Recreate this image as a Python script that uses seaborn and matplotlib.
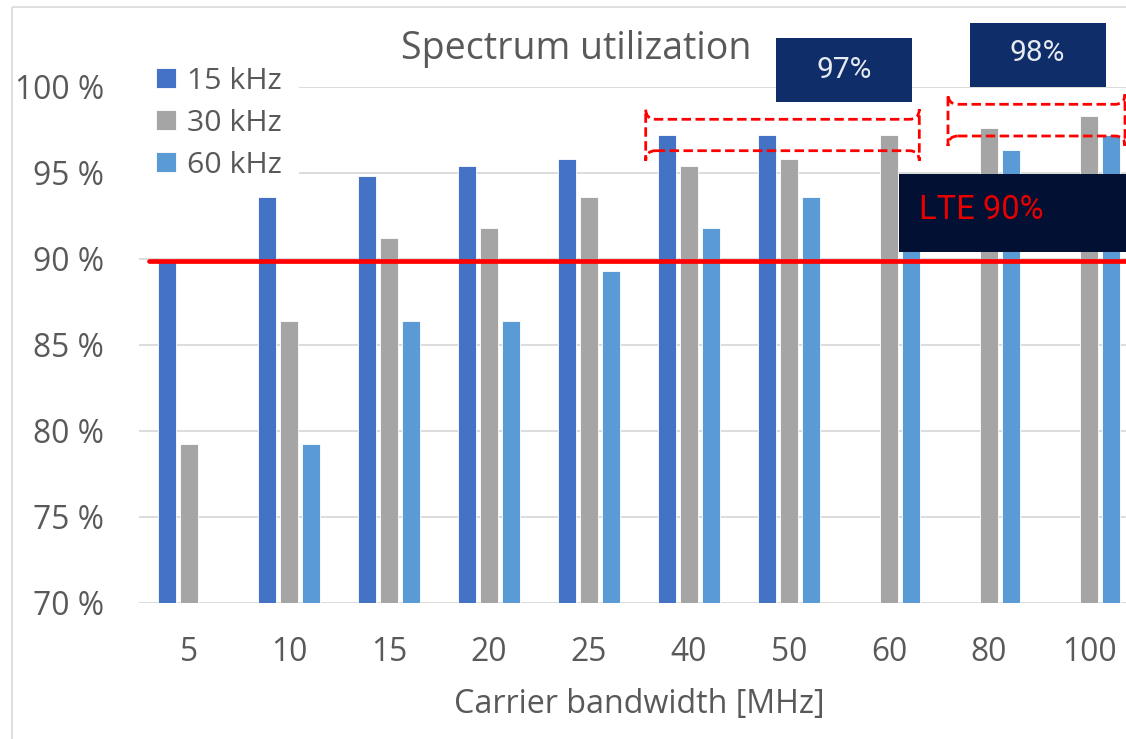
import numpy as np
import pandas as pd
import matplotlib
matplotlib.use("Agg")
import matplotlib.pyplot as plt
from matplotlib.patches import Rectangle, FancyBboxPatch
from matplotlib.transforms import Affine2D
import seaborn as sns

# Carrier bandwidths and spectrum utilization (%) per subcarrier spacing
bandwidths = ["5", "10", "15", "20", "25", "40", "50", "60", "80", "100"]
util_15khz = [90.0, 93.6, 94.8, 95.4, 95.8, 97.2, 97.2, np.nan, np.nan, np.nan]
util_30khz = [79.2, 86.4, 91.2, 91.8, 93.6, 95.4, 95.8, 97.2, 97.6, 98.3]
util_60khz = [np.nan, 79.2, 86.4, 86.4, 89.3, 91.8, 93.6, 94.8, 96.3, 97.2]
spacings = ["15 kHz", "30 kHz", "60 kHz"]
lte_level = 89.83
y_ticks = [70, 75, 80, 85, 90, 95, 100]

colors = ["#4472C4", "#A5A5A5", "#5B9BD5"]
text_grey = "#595959"
grid_grey = "#D9D9D9"

df = pd.DataFrame({
    "bw": bandwidths * 3,
    "util": util_15khz + util_30khz + util_60khz,
    "scs": [s for s in spacings for _ in bandwidths],
})

sns.set_theme(style="white")
plt.rcParams["font.family"] = ["Open Sans", "DejaVu Sans"]

W, H = 1126, 739
fig = plt.figure(figsize=(W / 100, H / 100), dpi=100)
# pixel-based transform (origin top-left) for decorations
px = Affine2D().scale(1 / W, -1 / H).translate(0, 1) + fig.transFigure

ax = fig.add_axes([139 / W, 1 - 602.7 / H, 1000 / W, 516.2 / H])

sns.barplot(data=df, x="bw", y="util", hue="scs", hue_order=spacings,
            order=bandwidths, palette=colors, saturation=1, width=0.67,
            gap=0.2, edgecolor="white", linewidth=0.6, ax=ax, zorder=2)

ax.set_ylim(70, 100)
ax.set_xlim(-0.5, len(bandwidths) - 0.5)
ax.set_yticks(y_ticks)
ax.set_yticklabels([f"{v} %" for v in y_ticks])
ax.set_axisbelow(True)
ax.yaxis.grid(True, color=grid_grey, linewidth=1.3)
ax.xaxis.grid(False)
for s in ax.spines.values():
    s.set_visible(False)
ax.tick_params(axis="both", length=0, colors=text_grey, labelsize=22.9)
ax.tick_params(axis="y", pad=25)
ax.tick_params(axis="x", pad=24)
ax.set_ylabel("")
ax.set_xlabel("Carrier bandwidth [MHz]", fontsize=23.2, color=text_grey)
ax.xaxis.label.set_va("center")
ax.xaxis.set_label_coords(0.5, (602.7 - 704) / 516.2)

# LTE reference line
ax.axhline(lte_level, xmin=0.01, xmax=1, color="#FF0000", linewidth=3.4,
           zorder=4)

# legend
handles, labels = ax.get_legend_handles_labels()
ax.get_legend().remove()
leg = ax.legend(handles, labels, loc="upper left",
                bbox_to_anchor=(139 / W, 1 - 50 / H),
                bbox_transform=fig.transFigure, fontsize=21.8, frameon=True,
                facecolor="white", edgecolor="none", framealpha=1,
                handlelength=0.66, handleheight=0.66, handletextpad=0.38,
                labelspacing=0.43, borderpad=0.55, borderaxespad=0)
leg.set_zorder(5)
for t in leg.get_texts():
    t.set_color(text_grey)

# title
fig.text(576, 49, "Spectrum utilization", transform=px, ha="center",
         va="center", fontsize=27, color=text_grey)

# outer chart border
fig.add_artist(Rectangle((11.7, 7.3), 1200, 800, transform=px, fill=False,
                         edgecolor=grid_grey, linewidth=1.2))

# value call-out boxes
navy = "#0F2E69"
for (x0, y0, x1, y1, label, cx, cy) in [
        (776, 38, 912, 101.7, "97%", 844, 70),
        (970, 22.7, 1105.7, 86.7, "98%", 1037, 53)]:
    fig.add_artist(Rectangle((x0, y1), x1 - x0, y0 - y1, transform=px,
                             facecolor=navy, edgecolor="none", zorder=6))
    fig.text(cx, cy, label, transform=px, ha="center", va="center",
             fontsize=21.5, color="#E6EAF1", family=["Roboto", "DejaVu Sans"],
             fontweight="normal", zorder=7)

# LTE box
fig.add_artist(Rectangle((899, 251.7), 260, 174 - 251.7, transform=px,
                         facecolor="#021033", edgecolor="none", zorder=6))
fig.text(919, 210, "LTE 90%", transform=px, ha="left", va="center",
         fontsize=23.5, color="#E60000", family=["Roboto", "DejaVu Sans"],
         fontweight="normal", zorder=7)

# dashed highlight frames
for (x0, y0, x1, y1) in [(645.7, 119.3, 919.3, 150.7),
                         (948, 104.3, 1125, 136)]:
    fig.add_artist(FancyBboxPatch((x0, y1), x1 - x0, y0 - y1, transform=px,
                                  boxstyle="round,pad=0,rounding_size=10",
                                  fill=False, edgecolor="#FF0000",
                                  linewidth=2.0, linestyle=(0, (3.4, 1.6)),
                                  zorder=6))

fig.savefig("out.png", dpi=100)
